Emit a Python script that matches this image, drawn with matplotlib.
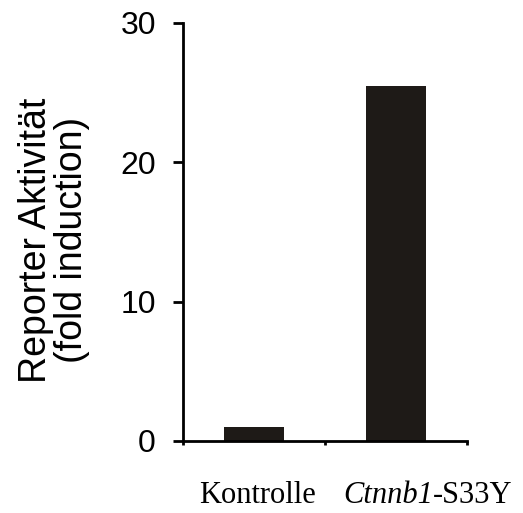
import matplotlib
matplotlib.use('Agg')
import matplotlib.pyplot as plt

categories = ['Kontrolle', 'Ctnnb1-S33Y']
values = [1.0, 25.5]
label_x = [-0.39, 0.627]   # left edge of the category labels, data units

fig = plt.figure(figsize=(5.23, 5.13), dpi=100)
ax = fig.add_axes([0.35, 0.1404, 0.543, 0.815])

ax.bar(range(len(values)), values, width=0.42, color='#1e1a17')

ax.set_xlim(-0.5, 1.5)
ax.set_ylim(0, 30)
ax.set_yticks([0, 10, 20, 30])
ax.set_xticks([-0.5, 0.5, 1.5])
ax.set_xticklabels([])
ax.tick_params(axis='y', length=7.5, width=2, labelsize=23, pad=12)
ax.tick_params(axis='x', length=3, width=2)
for lbl in ax.get_yticklabels():
    lbl.set_fontfamily('Liberation Sans')

for s in ['top', 'right']:
    ax.spines[s].set_visible(False)
for s in ['left', 'bottom']:
    ax.spines[s].set_linewidth(2)

# category labels (Times-like); the gene name is italic
serif = dict(fontsize=22, family='Liberation Serif')
ax.text(label_x[0], -4.45, categories[0], ha='left', va='baseline', **serif)
gene, suffix = categories[1].split('-', 1)
t = ax.text(label_x[1], -4.45, gene, ha='left', va='baseline', style='italic', **serif)
ax.annotate('-' + suffix, xy=(1, 0), xycoords=t, ha='left', va='bottom', **serif)

fig.text(54 / 523, 1 - 240 / 513, 'Reporter Aktivität\n(fold induction)',
         rotation=90, ha='center', va='center', multialignment='center',
         fontsize=27, family='Liberation Sans', linespacing=1.0)

fig.savefig('out.png', dpi=100)
